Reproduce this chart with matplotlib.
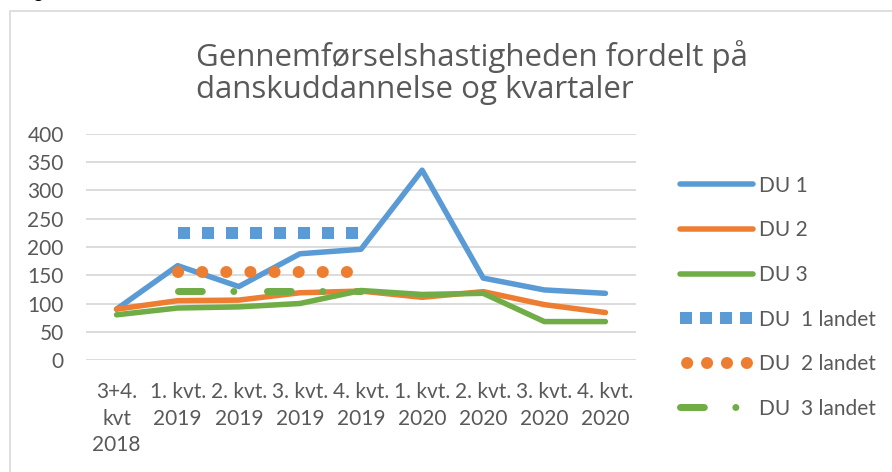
import numpy as np
import matplotlib
matplotlib.use("Agg")
import matplotlib.pyplot as plt
from matplotlib.patches import Rectangle

# data
labels = ["3+4.\nkvt\n2018", "1. kvt.\n2019", "2. kvt.\n2019", "3. kvt.\n2019",
          "4. kvt.\n2019", "1. kvt.\n2020", "2. kvt.\n2020", "3. kvt.\n2020",
          "4. kvt.\n2020"]
du1 = [90, 167, 130, 188, 196, 336, 145, 124, 118]
du2 = [90, 105, 106, 119, 122, 111, 121, 98, 84]
du3 = [80, 92, 94, 100, 123, 116, 118, 68, 68]
du1_landet = [np.nan, 225, 225, 225, 225, np.nan, np.nan, np.nan, np.nan]
du2_landet = [np.nan, 155, 155, 155, 155, np.nan, np.nan, np.nan, np.nan]
du3_landet = [np.nan, 122, 122, 122, 122, np.nan, np.nan, np.nan, np.nan]

blue = "#5B9BD5"
orange = "#ED7D31"
green = "#70AD47"
grey = "#595959"

plt.rcParams['font.family'] = ['Lato', 'DejaVu Sans']

fig = plt.figure(figsize=(8.92, 4.72), dpi=100)
fig.patches.append(Rectangle((10 / 892, -0.01), 1.02, 1 - 11 / 472 + 0.01,
                             transform=fig.transFigure, fill=False,
                             edgecolor="#D9D9D9", linewidth=1.2))
fig.text(0.022, 1.004, "Figur", fontsize=13, fontweight="bold", color="black",
         va="baseline")

ax = fig.add_axes([86 / 892, 1 - 360 / 472, 550 / 892, 226 / 472])
x = np.arange(len(labels))

px = 72 / 100.0  # points per pixel
lw = 5.5 * px
ax.plot(x, du1, color=blue, lw=lw, solid_capstyle="round", solid_joinstyle="round", label="DU 1")
ax.plot(x, du2, color=orange, lw=lw, solid_capstyle="round", solid_joinstyle="round", label="DU 2")
ax.plot(x, du3, color=green, lw=lw, solid_capstyle="round", solid_joinstyle="round", label="DU 3")
ax.plot(x, du1_landet, color=blue, lw=12 * px, linestyle=(0, (1, 1)),
        dash_capstyle="butt", label="DU  1 landet")
ax.plot(x, du2_landet, color=orange, lw=12 * px, linestyle=(0, (0.01, 2)),
        dash_capstyle="round", label="DU  2 landet")
ax.plot(x, du3_landet, color=green, lw=7 * px, linestyle=(0, (3.4, 4.5, 0.01, 4.8)),
        dash_capstyle="round", label="DU  3 landet")

ax.set_xlim(-0.5, len(labels) - 0.5)
ax.set_ylim(0, 400)
ax.set_yticks(range(0, 401, 50))
ax.set_xticks(x)
ax.set_xticklabels(labels, linespacing=1.4)
ax.yaxis.grid(True, color="#D9D9D9", lw=1.3)
ax.set_axisbelow(True)
for s in ax.spines.values():
    s.set_visible(False)
ax.tick_params(length=0, labelsize=15, colors=grey)
ax.tick_params(axis="x", pad=16)
ax.tick_params(axis="y", pad=16)

leg = ax.legend(loc="upper left", bbox_to_anchor=(661 / 892, 1 - 157 / 472),
                bbox_transform=fig.transFigure, frameon=False, fontsize=15,
                handlelength=3.5, labelspacing=1.18, handletextpad=0.3)
for t in leg.get_texts():
    t.set_color(grey)
# legend samples: fit four squares / four dots into the handle
leg_lines = leg.get_lines()
leg_lines[3].set_linestyle((0, (1, 0.667)))
leg_lines[4].set_linestyle((1.07, (0.01, 1.65)))

fig.text(196 / 892, 1 - 40 / 472, "Gennemførselshastigheden fordelt på\ndanskuddannelse og kvartaler",
         fontsize=22.5, family=["Open Sans", "DejaVu Sans"], color=grey,
         ha="left", va="top", linespacing=1.1)

fig.savefig("out.png", dpi=100)
